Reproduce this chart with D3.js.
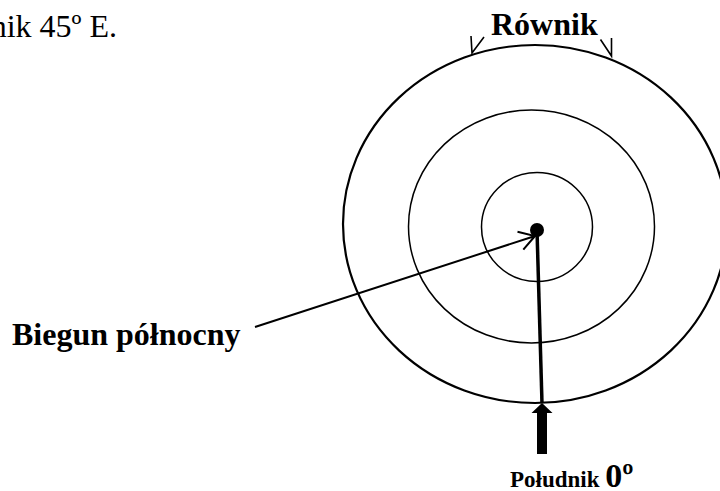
<!DOCTYPE html>
<html>
<head>
<meta charset="utf-8">
<script src="https://cdn.jsdelivr.net/npm/d3@7"></script>
<style>
  body { margin: 0; background: #fff; }
  svg { display: block; }
  text { font-family: "Liberation Serif", "Times New Roman", serif; fill: #000; }
</style>
</head>
<body>
<svg id="mapSVG" width="720" height="491"></svg>
<script>
// rings of the polar view, by latitude (0 = equator)
const latitudes = [60, 30, 0];
const ringLabels = ["Równik"];
const poleLabel = "Biegun północny";
const meridianLabel = ["Południk ", "0º"];
const topLine = "Południk 45º E.";

// latitude -> ellipse geometry (drawing is a slightly squashed circle)
const rxScale = d3.scaleLinear().domain([60, 30, 0]).range([55.5, 123, 192]);
const ryScale = d3.scaleLinear().domain([60, 30, 0]).range([54.5, 116.5, 179]);
const cxScale = d3.scaleLinear().domain([60, 30, 0]).range([537, 531.5, 535]);
const cyScale = d3.scaleLinear().domain([60, 30, 0]).range([227, 226.5, 224]);

const pole = { x: 537, y: 230 };

function drawMap() {
  let svg = d3.select("#mapSVG");

  // rings
  svg.selectAll("ellipse")
    .data(latitudes)
    .enter()
    .append("ellipse")
    .attr("cx", (d) => cxScale(d))
    .attr("cy", (d) => cyScale(d))
    .attr("rx", (d) => rxScale(d))
    .attr("ry", (d) => ryScale(d))
    .style("fill", "none")
    .style("stroke", "#000")
    .style("stroke-width", (d) => (d === 0 ? 2.2 : 1.5));

  // bottom of the equator
  let eqBottom = cyScale(0) + ryScale(0);

  // meridian 0 from pole to the equator
  let foot = [542, eqBottom];
  svg.append("path")
    .attr("d", `M ${pole.x},${pole.y} L ${foot[0]},${foot[1]}`)
    .style("stroke", "#000")
    .style("stroke-width", 3.5)
    .style("fill", "none");

  // fat arrow pointing at meridian foot
  let fx = foot[0], fy = foot[1];
  svg.append("path")
    .attr("d", `M ${fx},${fy} L ${fx + 10.5},${fy + 10} L ${fx + 5},${fy + 10} L ${fx + 5},${fy + 51} ` +
      `L ${fx - 5},${fy + 51} L ${fx - 5},${fy + 10} L ${fx - 10.5},${fy + 10} Z`)
    .style("fill", "#000");

  // pole dot
  svg.append("circle")
    .attr("cx", pole.x)
    .attr("cy", pole.y)
    .attr("r", 7)
    .style("fill", "#000");

  // arrow from pole label to the pole
  let start = [255, 327], tip = [535, 236];
  let ang = Math.atan2(tip[1] - start[1], tip[0] - start[0]);
  let barb = (off) => [tip[0] - 18 * Math.cos(ang + off), tip[1] - 18 * Math.sin(ang + off)];
  let b1 = barb(0.55), b2 = barb(-0.55);
  svg.append("path")
    .attr("d", `M ${start[0]},${start[1]} L ${tip[0]},${tip[1]} M ${b1[0]},${b1[1]} L ${tip[0]},${tip[1]} L ${b2[0]},${b2[1]}`)
    .style("stroke", "#000")
    .style("stroke-width", 2)
    .style("fill", "none");

  // open arrowheads on the equator under "Równik"
  let heads = [
    { tip: [472, 53], arms: [[471, 36], [484, 37]] },
    { tip: [611.5, 56], arms: [[611.5, 38], [600.5, 39.5]] },
  ];
  svg.selectAll(".eqHead")
    .data(heads)
    .enter()
    .append("path")
    .attr("class", "eqHead")
    .attr("d", (d) => `M ${d.arms[0][0]},${d.arms[0][1]} L ${d.tip[0]},${d.tip[1]} L ${d.arms[1][0]},${d.arms[1][1]}`)
    .style("stroke", "#000")
    .style("stroke-width", 1.6)
    .style("fill", "none");

  // labels
  svg.append("text")
    .attr("x", 491)
    .attr("y", 35)
    .style("font-size", "32px")
    .style("font-weight", "bold")
    .text(ringLabels[0]);

  svg.append("text")
    .attr("x", 12)
    .attr("y", 345)
    .style("font-size", "32px")
    .style("font-weight", "bold")
    .text(poleLabel);

  let mer = svg.append("text")
    .attr("x", 510)
    .attr("y", 487)
    .style("font-weight", "bold");
  mer.append("tspan").style("font-size", "23px").text(meridianLabel[0]);
  mer.append("tspan").style("font-size", "34px").text(meridianLabel[1]);

  svg.append("text")
    .attr("x", 117)
    .attr("y", 37)
    .attr("text-anchor", "end")
    .style("font-size", "32px")
    .text(topLine);
}

drawMap();
</script>
</body>
</html>
